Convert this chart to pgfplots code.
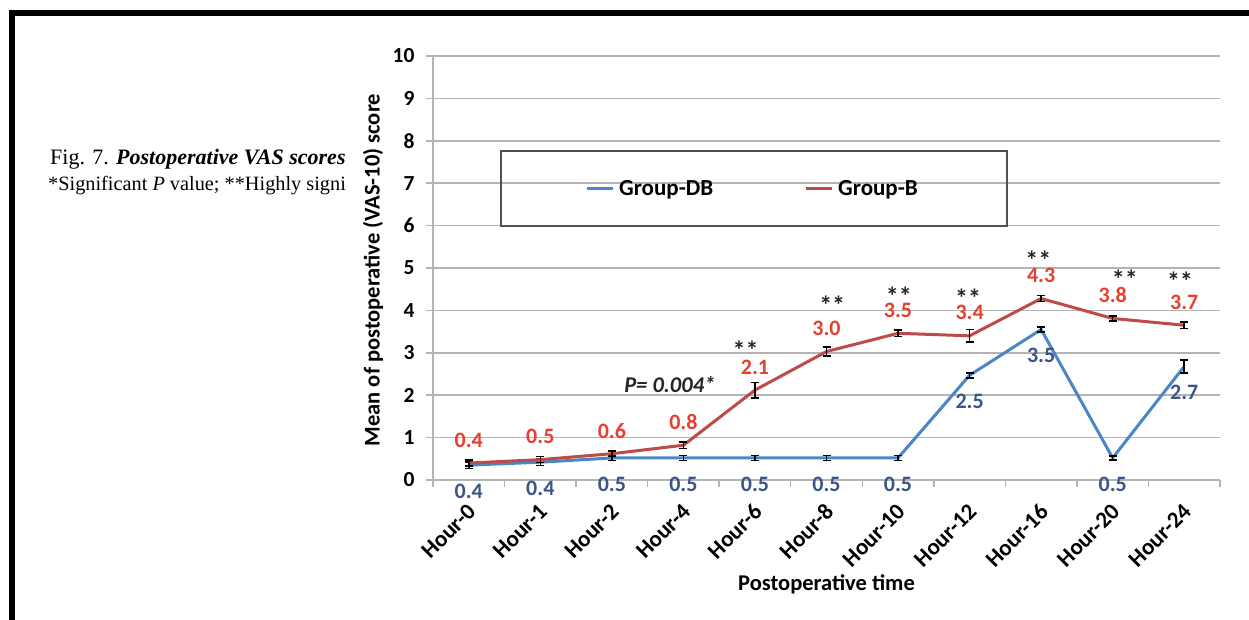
\documentclass[border=0pt]{standalone}
\usepackage{pgfplots}
\pgfplotsset{compat=1.18}
\usepackage{pgfplotstable}
\usepackage{fontspec}
\setmainfont{Carlito}
\newfontfamily\capfont{Liberation Serif}
\definecolor{lblue}{HTML}{4A86C8}
\definecolor{lred}{HTML}{BE4B48}
\definecolor{tred}{HTML}{E8402F}
\definecolor{tblue}{HTML}{3B5589}
\definecolor{gridc}{HTML}{B4B4B4}
\definecolor{legc}{HTML}{505050}

\pgfplotstableread{
x y e lab
0 0.35 0.08 0.4
1 0.42 0.08 0.4
2 0.52 0.06 0.5
3 0.52 0.06 0.5
4 0.52 0.06 0.5
5 0.52 0.06 0.5
6 0.52 0.06 0.5
7 2.47 0.06 2.5
8 3.55 0.06 3.5
9 0.52 0.05 0.5
10 2.68 0.15 2.7
}\dbdata

\pgfplotstableread{
x y e lab
0 0.40 0.07 0.4
1 0.48 0.07 0.5
2 0.62 0.07 0.6
3 0.82 0.08 0.8
4 2.12 0.18 2.1
5 3.03 0.10 3.0
6 3.46 0.08 3.5
7 3.40 0.15 3.4
8 4.28 0.07 4.3
9 3.81 0.06 3.8
10 3.65 0.08 3.7
}\bdata

\begin{document}
\begin{tikzpicture}
\path[use as bounding box] (0pt,0pt) rectangle (1249pt,620pt);
\fill[white] (0pt,0pt) rectangle (1249pt,620pt);
% caption
\node[anchor=base west, inner sep=0pt, font=\capfont\fontsize{22}{23}\selectfont] at (50pt,455pt) {Fig. 7. \textbf{\textit{Postoperative VAS scores}}};
\node[anchor=base west, inner sep=0pt, font=\capfont\fontsize{20.3}{23}\selectfont] at (48pt,429pt) {*Significant \textit{P} value; **Highly signi};
% frame
\draw[line width=6pt, black] (12pt,0pt) -- (12pt,607pt) -- (1249pt,607pt);

\begin{axis}[
  at={(433pt,140pt)}, anchor=south west,
  scale only axis, width=787pt, height=424pt,
  xmin=-0.5, xmax=10.5, ymin=0, ymax=10,
  clip=false,
  axis x line*=bottom, axis y line*=left,
  axis line style={gridc, line width=1.5pt},
  xtick={0,...,10},
  xticklabels={Hour-0,Hour-1,Hour-2,Hour-4,Hour-6,Hour-8,Hour-10,Hour-12,Hour-16,Hour-20,Hour-24},
  major x tick style={draw=none},
  minor xtick={-0.5,0.5,...,10.5},
  minor x tick style={gridc, line width=1.5pt},
  minor tick length=7pt,
  ytick={0,...,10},
  y tick style={gridc, line width=1.5pt},
  major tick length=7pt,
  tick align=outside,
  ymajorgrids,
  major grid style={gridc, line width=1.5pt},
  /pgf/number format/assume math mode=true,
  yticklabel style={font=\bfseries\fontsize{21.5}{21.5}\selectfont, xshift=-8pt},
  xticklabel style={font=\bfseries\fontsize{23}{23}\selectfont, xshift=3pt, yshift=-21pt, rotate=45, anchor=east, inner sep=0pt},
  xlabel={Postoperative time},
  xlabel style={font=\bfseries\fontsize{22.5}{22.5}\selectfont, at={(axis description cs:0.5,0)}, anchor=center, yshift=-104pt},
  ylabel={Mean of postoperative (VAS-10) score},
  ylabel style={font=\bfseries\fontsize{22.5}{22.5}\selectfont, at={(axis description cs:-0.0762,0.495)}, anchor=center},
  legend columns=2,
  legend style={at={(axis description cs:0.0855,0.778)}, anchor=north west,
    draw=legc, line width=1.8pt, fill=none,
    font=\bfseries\fontsize{23}{23}\selectfont,
    inner xsep=84pt, inner ysep=27pt,
    nodes={inner xsep=5pt},
    /tikz/every even column/.append style={column sep=86pt}},
  legend image code/.code={\draw[#1, line width=3pt] (0pt,0pt) -- (26pt,0pt);},
  point meta=explicit symbolic,
  nodes near coords,
]
\addplot[lblue, line width=3pt, mark=none,
  every node near coord/.append style={font=\bfseries\fontsize{22}{22}\selectfont, text=tblue, anchor=center, yshift=-26pt},
  error bars/.cd, y dir=both, y explicit,
  error bar style={black, line width=1.6pt},
  error mark options={black, line width=1.6pt, mark size=4pt, rotate=90},
  ]
  table[x=x, y=y, y error=e, meta=lab] {\dbdata};
\addlegendentry{Group-DB}
\addplot[lred, line width=3pt, mark=none,
  every node near coord/.append style={font=\bfseries\fontsize{22}{22}\selectfont, text=tred, anchor=center, yshift=23pt},
  error bars/.cd, y dir=both, y explicit,
  error bar style={black, line width=1.6pt},
  error mark options={black, line width=1.6pt, mark size=4pt, rotate=90},
  ]
  table[x=x, y=y, y error=e, meta=lab] {\bdata};
\addlegendentry{Group-B}
% significance markers
\begin{scope}[every node/.style={font=\bfseries\fontsize{26}{26}\selectfont, text=black!85, inner sep=0pt}]
\node at (axis cs:3.87,3.07) {**};
\node at (axis cs:5.08,4.13) {**};
\node at (axis cs:6.01,4.34) {**};
\node at (axis cs:6.98,4.29) {**};
\node at (axis cs:7.96,5.18) {**};
\node at (axis cs:9.17,4.74) {**};
\node at (axis cs:9.94,4.69) {**};
\end{scope}
\node[font=\bfseries\itshape\fontsize{22.5}{22.5}\selectfont, text=black!85, inner sep=0pt] at (axis cs:2.81,2.24) {P= 0.004*};
\end{axis}
\end{tikzpicture}
\end{document}
